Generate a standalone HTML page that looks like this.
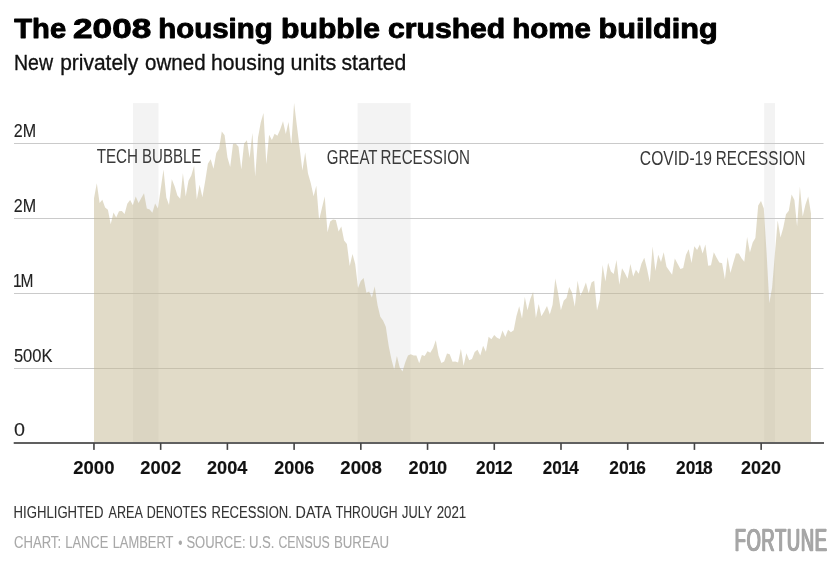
<!DOCTYPE html>
<html><head><meta charset="utf-8"><title>The 2008 housing bubble crushed home building</title>
<style>
html,body{margin:0;padding:0;background:#fff;}
svg{display:block;font-family:"Liberation Sans",sans-serif;}
</style></head><body>
<svg width="840" height="569" viewBox="0 0 840 569">
<rect width="840" height="569" fill="#fff"/>
<g fill="#f3f3f3">
<rect x="133" y="103.1" width="25.5" height="339.9"/>
<rect x="357.6" y="103.1" width="53" height="339.9"/>
<rect x="764.2" y="103.1" width="10.8" height="339.9"/>
</g>
<g>
<rect x="14" y="143" width="809.5" height="1" fill="#cacaca"/>
<rect x="14" y="218" width="809.5" height="1" fill="#cacaca"/>
<rect x="14" y="293" width="809.5" height="1" fill="#cacaca"/>
<rect x="14" y="368" width="809.5" height="1" fill="#cacaca"/>
</g>
<path d="M94.0,443.1 L94.0,198.3 L96.8,183.2 L99.6,203.1 L102.3,199.8 L105.1,207.4 L107.9,209.8 L110.7,224.2 L113.5,212.5 L116.2,217.6 L119.0,211.3 L121.8,211.0 L124.6,213.9 L127.3,203.7 L130.1,199.9 L132.9,205.2 L135.7,196.4 L138.5,202.9 L141.2,198.3 L144.0,193.2 L146.8,208.6 L149.6,209.4 L152.4,212.7 L155.1,203.4 L157.9,208.5 L160.7,189.0 L163.5,169.4 L166.3,197.4 L169.0,204.9 L171.8,179.2 L174.6,186.2 L177.4,195.5 L180.2,198.8 L182.9,173.2 L185.7,196.5 L188.5,180.8 L191.3,175.6 L194.1,165.8 L196.8,199.4 L199.6,184.8 L202.4,197.3 L205.2,181.1 L207.9,163.7 L210.7,159.3 L213.5,168.8 L216.3,153.0 L219.1,148.8 L221.8,131.4 L224.6,135.3 L227.4,157.2 L230.2,166.9 L233.0,144.1 L235.7,143.4 L238.5,146.7 L241.3,169.6 L244.1,143.6 L246.9,140.3 L249.6,158.1 L252.4,133.1 L255.2,176.5 L258.0,137.6 L260.8,122.3 L263.5,112.9 L266.3,164.2 L269.1,134.7 L271.9,140.1 L274.6,133.7 L277.4,135.8 L280.2,129.6 L283.0,121.3 L285.8,134.1 L288.5,121.9 L291.3,144.7 L294.1,103.0 L296.9,126.0 L299.7,148.5 L302.4,170.6 L305.2,152.5 L308.0,173.5 L310.8,183.2 L313.6,196.2 L316.3,185.7 L319.1,220.0 L321.9,208.2 L324.7,196.4 L327.5,232.3 L330.2,221.6 L333.0,219.4 L335.8,220.1 L338.6,231.4 L341.3,226.4 L344.1,240.5 L346.9,244.1 L349.7,266.1 L352.5,254.0 L355.2,264.0 L358.0,287.9 L360.8,280.9 L363.6,278.0 L366.4,292.7 L369.1,291.5 L371.9,297.5 L374.7,286.6 L377.5,305.0 L380.3,316.8 L383.0,320.4 L385.8,326.8 L388.6,345.5 L391.4,359.3 L394.2,369.7 L396.9,356.0 L399.7,367.5 L402.5,371.5 L405.3,362.3 L408.0,355.5 L410.8,354.2 L413.6,355.4 L416.4,355.5 L419.2,363.2 L421.9,355.1 L424.7,356.1 L427.5,351.2 L430.3,352.7 L433.1,347.9 L435.8,340.3 L438.6,355.8 L441.4,362.9 L444.2,361.4 L447.0,353.4 L449.7,354.2 L452.5,361.8 L455.3,361.5 L458.1,362.4 L460.9,348.8 L463.6,365.7 L466.4,353.3 L469.2,360.2 L472.0,359.1 L474.7,352.1 L477.5,349.8 L480.3,355.5 L483.1,345.8 L485.9,351.8 L488.6,336.7 L491.4,339.2 L494.2,334.9 L497.0,337.7 L499.8,339.1 L502.5,330.4 L505.3,337.1 L508.1,329.8 L510.9,332.3 L513.7,330.3 L516.4,316.3 L519.2,306.2 L522.0,318.4 L524.8,297.0 L527.5,310.2 L530.3,299.1 L533.1,292.0 L535.9,318.1 L538.7,303.9 L541.4,316.2 L544.2,311.4 L547.0,305.9 L549.8,314.4 L552.6,304.7 L555.3,278.5 L558.1,293.2 L560.9,310.2 L563.7,300.8 L566.5,297.9 L569.2,287.0 L572.0,292.4 L574.8,306.8 L577.6,280.7 L580.4,295.8 L583.1,290.0 L585.9,282.4 L588.7,293.3 L591.5,282.5 L594.2,280.7 L597.0,310.5 L599.8,299.4 L602.6,265.0 L605.4,281.6 L608.1,262.8 L610.9,271.6 L613.7,274.0 L616.5,259.9 L619.3,284.8 L622.0,268.3 L624.8,273.1 L627.6,278.8 L630.4,264.0 L633.2,276.5 L635.9,269.8 L638.7,273.7 L641.5,263.4 L644.3,257.8 L647.1,269.2 L649.8,282.2 L652.6,246.6 L655.4,270.9 L658.2,254.7 L661.0,262.0 L663.7,252.3 L666.5,266.7 L669.3,270.7 L672.1,274.8 L674.8,258.4 L677.6,263.8 L680.4,269.1 L683.2,268.0 L686.0,254.7 L688.7,249.2 L691.5,263.1 L694.3,246.3 L697.1,249.9 L699.9,244.4 L702.6,253.4 L705.4,244.5 L708.2,265.8 L711.0,265.2 L713.8,252.2 L716.5,257.5 L719.3,262.6 L722.1,263.2 L724.9,279.2 L727.6,256.9 L730.4,273.0 L733.2,263.1 L736.0,253.5 L738.8,253.4 L741.5,258.3 L744.3,261.7 L747.1,237.1 L749.9,252.5 L752.7,242.6 L755.4,237.9 L758.2,205.6 L761.0,201.1 L763.8,208.6 L766.6,253.2 L769.3,303.3 L772.1,287.8 L774.9,253.8 L777.7,220.6 L780.5,237.6 L783.2,228.1 L786.0,214.2 L788.8,210.7 L791.6,194.6 L794.4,199.9 L797.1,226.6 L799.9,186.8 L802.7,216.6 L805.5,204.6 L808.2,196.5 L811.0,213.6 L811.0,443.1 Z" fill="#c3b791" fill-opacity="0.5"/>
<rect x="13.7" y="442" width="810.3" height="2" fill="#606060"/>
<g>
<rect x="93.15" y="443" width="1.6" height="6.9" fill="#444"/>
<rect x="159.87" y="443" width="1.6" height="6.9" fill="#444"/>
<rect x="226.59" y="443" width="1.6" height="6.9" fill="#444"/>
<rect x="293.31" y="443" width="1.6" height="6.9" fill="#444"/>
<rect x="360.03" y="443" width="1.6" height="6.9" fill="#444"/>
<rect x="426.75" y="443" width="1.6" height="6.9" fill="#444"/>
<rect x="493.47" y="443" width="1.6" height="6.9" fill="#444"/>
<rect x="560.19" y="443" width="1.6" height="6.9" fill="#444"/>
<rect x="626.91" y="443" width="1.6" height="6.9" fill="#444"/>
<rect x="693.63" y="443" width="1.6" height="6.9" fill="#444"/>
<rect x="760.35" y="443" width="1.6" height="6.9" fill="#444"/>
</g>
<text y="37.8" font-size="26.9" font-weight="700" fill="#000" stroke="#000" stroke-width="0.9" stroke-linejoin="round"><tspan x="14.27" textLength="51.84" lengthAdjust="spacingAndGlyphs">The</tspan> <tspan x="73.1" textLength="78.08" lengthAdjust="spacingAndGlyphs">2008</tspan> <tspan x="158.36" textLength="114.33" lengthAdjust="spacingAndGlyphs">housing</tspan> <tspan x="281.1" textLength="98.84" lengthAdjust="spacingAndGlyphs">bubble</tspan> <tspan x="387.94" textLength="117.34" lengthAdjust="spacingAndGlyphs">crushed</tspan> <tspan x="512.35" textLength="78.66" lengthAdjust="spacingAndGlyphs">home</tspan> <tspan x="598.58" textLength="119.15" lengthAdjust="spacingAndGlyphs">building</tspan></text>
<text y="70.1" font-size="22.6" font-weight="400" fill="#111" stroke="#111" stroke-width="0.35" stroke-linejoin="round"><tspan x="13.99" textLength="39.06" lengthAdjust="spacingAndGlyphs">New</tspan> <tspan x="60.14" textLength="78.06" lengthAdjust="spacingAndGlyphs">privately</tspan> <tspan x="145.12" textLength="60.5" lengthAdjust="spacingAndGlyphs">owned</tspan> <tspan x="211.1" textLength="73.97" lengthAdjust="spacingAndGlyphs">housing</tspan> <tspan x="290.55" textLength="45.65" lengthAdjust="spacingAndGlyphs">units</tspan> <tspan x="341.53" textLength="64.71" lengthAdjust="spacingAndGlyphs">started</tspan></text>
<text y="136.8" font-size="18.1" font-weight="400" fill="#222" stroke="#222" stroke-width="0.1" stroke-linejoin="round"><tspan x="13.83" textLength="22.3" lengthAdjust="spacingAndGlyphs">2M</tspan></text>
<text y="211.8" font-size="18.1" font-weight="400" fill="#222" stroke="#222" stroke-width="0.1" stroke-linejoin="round"><tspan x="13.83" textLength="22.3" lengthAdjust="spacingAndGlyphs">2M</tspan></text>
<text y="286.8" font-size="18.1" font-weight="400" fill="#222" stroke="#222" stroke-width="0.1" stroke-linejoin="round" transform="translate(13.03,0) scale(0.8565,1)" dx="0 -1.2">1M</text>
<text y="361.9" font-size="18.1" font-weight="400" fill="#222" stroke="#222" stroke-width="0.1" stroke-linejoin="round"><tspan x="13.91" textLength="38.63" lengthAdjust="spacingAndGlyphs">500K</tspan></text>
<text y="436.4" font-size="18.1" font-weight="400" fill="#222" stroke="#222" stroke-width="0.1" stroke-linejoin="round"><tspan x="13.94" textLength="10.99" lengthAdjust="spacingAndGlyphs">0</tspan></text>
<text y="162.6" font-size="20.3" font-weight="400" fill="#3a3a3a"><tspan x="96.69" textLength="41.4" lengthAdjust="spacingAndGlyphs">TECH</tspan> <tspan x="142" textLength="59.39" lengthAdjust="spacingAndGlyphs">BUBBLE</tspan></text>
<text y="163.7" font-size="20.3" font-weight="400" fill="#3a3a3a"><tspan x="326.86" textLength="50.31" lengthAdjust="spacingAndGlyphs">GREAT</tspan> <tspan x="380.59" textLength="89.29" lengthAdjust="spacingAndGlyphs">RECESSION</tspan></text>
<text y="165" font-size="20.3" font-weight="400" fill="#3a3a3a"><tspan x="639.83" textLength="72.18" lengthAdjust="spacingAndGlyphs">COVID-19</tspan> <tspan x="715.79" textLength="89.7" lengthAdjust="spacingAndGlyphs">RECESSION</tspan></text>
<text y="474.3" font-size="18.6" font-weight="700" fill="#111" stroke="#111" stroke-width="0.15" stroke-linejoin="round"><tspan x="73.3" textLength="41.12" lengthAdjust="spacingAndGlyphs">2000</tspan> <tspan x="140.31" textLength="40.81" lengthAdjust="spacingAndGlyphs">2002</tspan> <tspan x="207.01" textLength="40.31" lengthAdjust="spacingAndGlyphs">2004</tspan> <tspan x="274.32" textLength="40.09" lengthAdjust="spacingAndGlyphs">2006</tspan> <tspan x="340.3" textLength="41.53" lengthAdjust="spacingAndGlyphs">2008</tspan> <tspan x="741.02" textLength="40.09" lengthAdjust="spacingAndGlyphs">2020</tspan></text>
<text y="474.3" font-size="18.6" font-weight="700" fill="#111" stroke="#111" stroke-width="0.15" stroke-linejoin="round" transform="translate(408.61,0) scale(0.9763,1)" dx="0 0 -0.6 -1.5">2010</text>
<text y="474.3" font-size="18.6" font-weight="700" fill="#111" stroke="#111" stroke-width="0.15" stroke-linejoin="round" transform="translate(476.03,0) scale(0.9333,1)" dx="0 0 -0.6 -1.5">2012</text>
<text y="474.3" font-size="18.6" font-weight="700" fill="#111" stroke="#111" stroke-width="0.15" stroke-linejoin="round" transform="translate(542.64,0) scale(0.9213,1)" dx="0 0 -0.6 -1.5">2014</text>
<text y="474.3" font-size="18.6" font-weight="700" fill="#111" stroke="#111" stroke-width="0.15" stroke-linejoin="round" transform="translate(609.33,0) scale(0.9333,1)" dx="0 0 -0.6 -1.5">2016</text>
<text y="474.3" font-size="18.6" font-weight="700" fill="#111" stroke="#111" stroke-width="0.15" stroke-linejoin="round" transform="translate(676.03,0) scale(0.9333,1)" dx="0 0 -0.6 -1.5">2018</text>
<text y="517.5" font-size="16" font-weight="400" fill="#333" stroke="#333" stroke-width="0.1" stroke-linejoin="round"><tspan x="13.57" textLength="89.81" lengthAdjust="spacingAndGlyphs">HIGHLIGHTED</tspan> <tspan x="108.6" textLength="33.46" lengthAdjust="spacingAndGlyphs">AREA</tspan> <tspan x="146.73" textLength="60.03" lengthAdjust="spacingAndGlyphs">DENOTES</tspan> <tspan x="211.48" textLength="80.39" lengthAdjust="spacingAndGlyphs">RECESSION.</tspan> <tspan x="295.61" textLength="35.13" lengthAdjust="spacingAndGlyphs">DATA</tspan> <tspan x="335.81" textLength="61.76" lengthAdjust="spacingAndGlyphs">THROUGH</tspan> <tspan x="402.1" textLength="29.94" lengthAdjust="spacingAndGlyphs">JULY</tspan> <tspan x="436.68" textLength="29.51" lengthAdjust="spacingAndGlyphs">2021</tspan></text>
<text y="547.8" font-size="15.8" font-weight="400" fill="#a8a8a8" stroke="#a8a8a8" stroke-width="0.1" stroke-linejoin="round"><tspan x="13.98" textLength="47.07" lengthAdjust="spacingAndGlyphs">CHART:</tspan> <tspan x="65.28" textLength="42.98" lengthAdjust="spacingAndGlyphs">LANCE</tspan> <tspan x="112.68" textLength="60.48" lengthAdjust="spacingAndGlyphs">LAMBERT</tspan> <tspan x="178.22" textLength="4.18" lengthAdjust="spacingAndGlyphs">•</tspan> <tspan x="186.38" textLength="59.14" lengthAdjust="spacingAndGlyphs">SOURCE:</tspan> <tspan x="248.96" textLength="25.58" lengthAdjust="spacingAndGlyphs">U.S.</tspan> <tspan x="278.42" textLength="51.35" lengthAdjust="spacingAndGlyphs">CENSUS</tspan> <tspan x="333.95" textLength="55.27" lengthAdjust="spacingAndGlyphs">BUREAU</tspan></text>

<g fill="#a6a6a6">
<text id="ft" y="551" font-size="31.4" font-weight="400" transform="translate(734.0,0) scale(0.583,1)" x="0" letter-spacing="1.2">FORTUNE</text>
<use href="#ft" x="0.65" stroke="#a6a6a6" stroke-width="0.7"/><use href="#ft" x="1.3"/>
</g>
</svg>
</body></html>
